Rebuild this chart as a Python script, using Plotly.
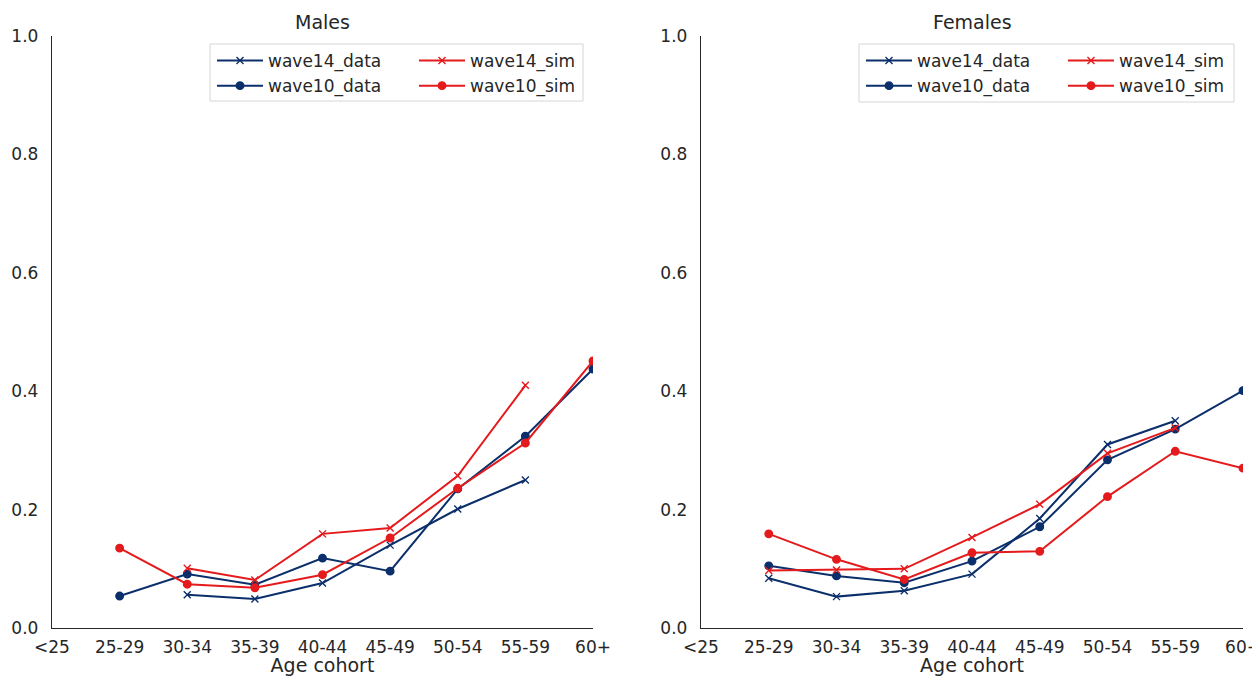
import plotly.graph_objects as go

categories = ["<25", "25-29", "30-34", "35-39", "40-44", "45-49", "50-54", "55-59", "60+"]

# Males (None = no value)
m_wave14_data = [None, None, 0.056, 0.049, 0.076, 0.140, 0.201, 0.250, None]
m_wave10_data = [None, 0.054, 0.091, 0.073, 0.118, 0.096, 0.235, 0.324, 0.4375]
m_wave14_sim = [None, None, 0.101, 0.081, 0.159, 0.169, 0.257, 0.410, None]
m_wave10_sim = [None, 0.135, 0.074, 0.068, 0.090, 0.152, 0.236, 0.3125, 0.451]

# Females
f_wave14_data = [None, 0.084, 0.053, 0.063, 0.091, 0.185, 0.310, 0.350, None]
f_wave10_data = [None, 0.105, 0.088, 0.0765, 0.113, 0.171, 0.284, 0.336, 0.401]
f_wave14_sim = [None, 0.097, 0.098, 0.100, 0.153, 0.209, 0.295, 0.338, None]
f_wave10_sim = [None, 0.159, 0.116, 0.082, 0.127, 0.1295, 0.222, 0.2985, 0.270]

titles = ["Males", "Females"]
xs = list(range(len(categories)))

NAVY = "#0b2f6b"
RED = "#e41a1c"
TXT = "#262626"
FONT = "DejaVu Sans"

# (name, color, symbol, legend column)
series_defs = [
    ("wave14_data", NAVY, "x-thin", 0),
    ("wave10_data", NAVY, "circle", 0),
    ("wave14_sim", RED, "x-thin", 1),
    ("wave10_sim", RED, "circle", 1),
]

panels = [
    {"wave14_data": m_wave14_data, "wave10_data": m_wave10_data,
     "wave14_sim": m_wave14_sim, "wave10_sim": m_wave10_sim},
    {"wave14_data": f_wave14_data, "wave10_data": f_wave10_data,
     "wave14_sim": f_wave14_sim, "wave10_sim": f_wave10_sim},
]

OFF = 8  # page body margin
W, H = 1260 - OFF, 676 - OFF
ml, mr, mt, mb = 52 - OFF, 17, 36 - OFF, 48
pw = W - ml - mr
ph = H - mt - mb
d1 = (0, (593 - 52) / pw)
d2 = ((701 - 52) / pw, 1)


def px_x(px):
    return (px - OFF - ml) / pw


def px_y(py):
    return (H - mb - (py - OFF)) / ph


legend_names = [["legend", "legend2"], ["legend3", "legend4"]]

fig = go.Figure()
for p, data in enumerate(panels):
    xa = "x" if p == 0 else "x2"
    ya = "y" if p == 0 else "y2"
    for name, color, sym, col in series_defs:
        fig.add_trace(go.Scatter(
            x=xs, y=data[name], name=name, mode="lines+markers",
            line=dict(color=color, width=2),
            marker=dict(symbol=sym, size=7.5 if sym == "circle" else 7,
                        color=color, line=dict(color=color, width=1.4)),
            xaxis=xa, yaxis=ya, legend=legend_names[p][col],
            connectgaps=False,
        ))

axis_common = dict(showgrid=False, zeroline=False, showline=True,
                   linecolor=TXT, linewidth=1.4, ticks="", automargin=False,
                   ticklabeloverflow="allow",
                   tickfont=dict(family=FONT, size=17, color=TXT))

xcommon = dict(axis_common, range=[0, 8], tickmode="array", tickvals=xs,
               ticktext=categories, ticklabelstandoff=3,
               title=dict(text="Age cohort", font=dict(family=FONT, size=19, color=TXT),
                          standoff=6))
ycommon = dict(axis_common, range=[0, 1], tickmode="array",
               tickvals=[0, 0.2, 0.4, 0.6, 0.8, 1.0],
               ticktext=["0.0", "0.2", "0.4", "0.6", "0.8", "1.0"],
               ticklabelstandoff=9)

legend_common = dict(orientation="v", xanchor="left", yanchor="top",
                     bgcolor="rgba(0,0,0,0)", borderwidth=0,
                     font=dict(family=FONT, size=17, color=TXT),
                     itemwidth=46, tracegroupgap=0)

# legend boxes (left px, top px, right px, bottom px) in page pixels
boxes = [(210, 44, 583, 101), (859, 44, 1234, 102)]
col_offsets = [0, 202]

layout_legends = {}
shapes = []
for p in range(2):
    bx0, by0, bx1, by1 = boxes[p]
    shapes.append(dict(type="rect", xref="paper", yref="paper",
                       x0=px_x(bx0), x1=px_x(bx1), y0=px_y(by1), y1=px_y(by0),
                       line=dict(color="#d6d6d6", width=1), fillcolor="white",
                       layer="above"))
    for c in range(2):
        layout_legends[legend_names[p][c]] = dict(
            legend_common, x=px_x(bx0 + 2 + col_offsets[c]), y=px_y(by0 - 1))

fig.update_layout(
    width=W, height=H,
    margin=dict(l=ml, r=mr, t=mt, b=mb, autoexpand=False),
    paper_bgcolor="white", plot_bgcolor="white",
    font=dict(family=FONT, color=TXT),
    showlegend=True,
    xaxis=dict(xcommon, domain=d1, anchor="y"),
    yaxis=dict(ycommon, domain=[0, 1], anchor="x"),
    xaxis2=dict(xcommon, domain=d2, anchor="y2"),
    yaxis2=dict(ycommon, domain=[0, 1], anchor="x2"),
    shapes=shapes,
    annotations=[
        dict(text=titles[0], x=(d1[0] + d1[1]) / 2, y=1, xref="paper", yref="paper",
             xanchor="center", yanchor="bottom", yshift=1, showarrow=False,
             font=dict(family=FONT, size=19, color=TXT)),
        dict(text=titles[1], x=(d2[0] + d2[1]) / 2, y=1, xref="paper", yref="paper",
             xanchor="center", yanchor="bottom", yshift=1, showarrow=False,
             font=dict(family=FONT, size=19, color=TXT)),
    ],
    **layout_legends,
)

fig.write_html("out.html",
               post_script="document.documentElement.style.overflow='hidden';")
